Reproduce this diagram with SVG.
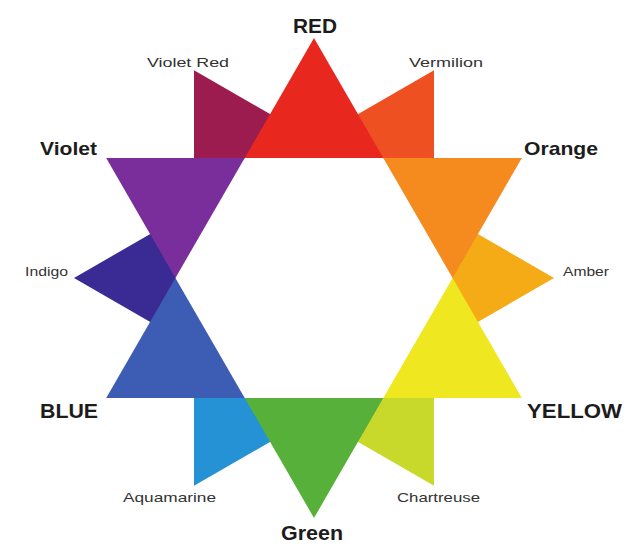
<svg xmlns="http://www.w3.org/2000/svg" width="630" height="547" viewBox="0 0 630 547">
<style>
.big{font-family:"Liberation Sans",Arial,sans-serif;font-weight:bold;font-size:21px;fill:#1c1c1c}
.mid{font-family:"Liberation Sans",Arial,sans-serif;font-weight:bold;font-size:19px;fill:#1c1c1c}
.small{font-family:"Liberation Sans",Arial,sans-serif;font-size:13px;fill:#333}
</style>
<rect width="630" height="547" fill="#ffffff"/>
<!-- tertiary points (behind) -->
<g id="vermilion"><polygon points="434,70.2 314,139.4 383.3,158 434,208.7" fill="#ee5022"/><text class="small" x="409" y="67" textLength="74" lengthAdjust="spacingAndGlyphs">Vermilion</text></g>
<g id="amber"><polygon points="554,278 434,208.7 452.6,278 434,347.3" fill="#f5ab15"/><text class="small" x="563" y="276" textLength="46" lengthAdjust="spacingAndGlyphs">Amber</text></g>
<g id="chartreuse"><polygon points="434,485.8 434,347.3 383.3,398 314,416.6" fill="#c9d92b"/><text class="small" x="397" y="502" textLength="83" lengthAdjust="spacingAndGlyphs">Chartreuse</text></g>
<g id="aquamarine"><polygon points="194,485.8 314,416.6 244.7,398 194,347.3" fill="#2492d5"/><text class="small" x="123" y="502" textLength="93" lengthAdjust="spacingAndGlyphs">Aquamarine</text></g>
<g id="indigo"><polygon points="74,278 194,347.3 175.4,278 194,208.7" fill="#3a2a93"/><text class="small" x="25" y="276" textLength="43" lengthAdjust="spacingAndGlyphs">Indigo</text></g>
<g id="violet-red"><polygon points="194,70.2 194,208.7 244.7,158 314,139.4" fill="#9d1c4f"/><text class="small" x="147" y="67" textLength="82" lengthAdjust="spacingAndGlyphs">Violet Red</text></g>
<!-- primary and secondary points -->
<g id="red"><polygon points="314,38 383.3,158 244.7,158" fill="#e8281f"/><text class="big" x="293" y="33" textLength="44" lengthAdjust="spacingAndGlyphs">RED</text></g>
<g id="orange"><polygon points="383.3,158 521.8,158 452.6,278" fill="#f58a1f"/><text class="mid" x="524" y="155" textLength="74" lengthAdjust="spacingAndGlyphs">Orange</text></g>
<g id="yellow"><polygon points="452.6,278 521.8,398 383.3,398" fill="#efe720"/><text class="big" x="527" y="418" textLength="95" lengthAdjust="spacingAndGlyphs">YELLOW</text></g>
<g id="green"><polygon points="383.3,398 314,518 244.7,398" fill="#57b03a"/><text class="big" x="281" y="540" textLength="62" lengthAdjust="spacingAndGlyphs">Green</text></g>
<g id="blue"><polygon points="244.7,398 106.2,398 175.4,278" fill="#3d5db4"/><text class="big" x="40" y="418" textLength="58" lengthAdjust="spacingAndGlyphs">BLUE</text></g>
<g id="violet"><polygon points="175.4,278 106.2,158 244.7,158" fill="#7a2e9c"/><text class="mid" x="40" y="155" textLength="57" lengthAdjust="spacingAndGlyphs">Violet</text></g>
<g id="connectors"></g>
</svg>
